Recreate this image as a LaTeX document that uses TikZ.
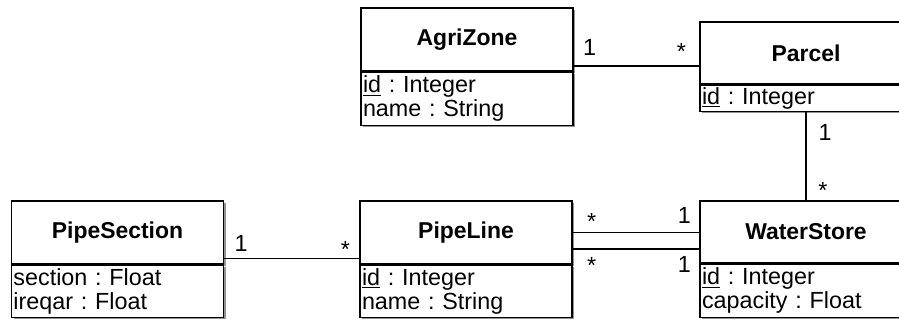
\documentclass[tikz,border=0pt]{standalone}
\usepackage{fontspec}
\setmainfont{Liberation Sans}
\usepackage{tikz}
\usetikzlibrary{positioning,shadows}
\frenchspacing

\begin{document}
\begin{tikzpicture}[
    x=0.75pt, y=-0.75pt, % one unit = one pixel of the layout, y going down
    every node/.style={font=\fontsize{17.5}{18}\selectfont},
    classnode/.style={draw, line width=1pt, fill=white, minimum width=159pt, inner sep=1.5pt, font=\fontsize{17.2}{18}\selectfont\bfseries, drop shadow={shadow xshift=1.5pt, shadow yshift=-1.5pt, fill=black!60, opacity=0.7}}, % class name compartment
    attrnode/.style={draw, line width=1pt, fill=white, text width=156pt, inner xsep=1.5pt, inner ysep=0pt, align=left, drop shadow={shadow xshift=1.5pt, shadow yshift=-1.5pt, fill=black!60, opacity=0.7}}, % attribute compartment
    multnode/.style={inner sep=0pt}, % multiplicity labels
    assoc/.style={line width=1pt},
    node distance=0pt
]
\useasboundingbox (0,0) rectangle (899,320);

% classes
\node[classnode, minimum height=47.25pt] (agrizone) at (467,39.5) {AgriZone};
\node[attrnode, minimum height=39.75pt, below=of agrizone] (agrizoneattr) {\underline{id} : Integer\\name : String};

\node[classnode, minimum height=46.5pt] (parcel) at (806,53) {Parcel};
\node[attrnode, minimum height=19.5pt, below=of parcel] (parcelattr) {\underline{id} : Integer};

\node[classnode, minimum height=47.25pt] (pipesection) at (117.5,232.5) {PipeSection};
\node[attrnode, minimum height=39pt, below=of pipesection] (pipesectionattr) {section : Float\\ireqar : Float};

\node[classnode, minimum height=47.25pt] (pipeline) at (466,232.5) {PipeLine};
\node[attrnode, minimum height=39pt, below=of pipeline] (pipelineattr) {\underline{id} : Integer\\name : String};

\node[classnode, minimum height=46.5pt] (waterstore) at (806,232) {WaterStore};
\node[attrnode, minimum height=39.75pt, below=of waterstore] (waterstoreattr) {\underline{id} : Integer\\capacity : Float};

% associations
\draw[assoc] ([yshift=-19.875pt]agrizone.east) -- ([yshift=-19.875pt]agrizone.east -| parcel.west)
    node[multnode, pos=0, xshift=12pt, yshift=14.25pt] {1}
    node[multnode, pos=1, xshift=-13.5pt, yshift=10.75pt] {*};
\draw[assoc] (parcelattr.south) -- (waterstore.north)
    node[multnode, pos=0, xshift=14.25pt, yshift=-15pt] {1}
    node[multnode, pos=1, xshift=12.75pt, yshift=7.75pt] {*};
\draw[assoc] ([yshift=4.5pt]pipesection.south east) -- ([yshift=4.5pt]pipesection.south east -| pipeline.west)
    node[multnode, pos=0, xshift=12.75pt, yshift=11.25pt] {1}
    node[multnode, pos=1, xshift=-10.5pt, yshift=7pt] {*};
\draw[assoc] (pipeline.east) -- (pipeline.east -| waterstore.west)
    node[multnode, pos=0, xshift=14.25pt, yshift=8.1pt] {*}
    node[multnode, pos=1, xshift=-11.25pt, yshift=12.75pt] {1};
\draw[assoc] ([yshift=-12.4pt]pipeline.east) -- ([yshift=-12.4pt]pipeline.east -| waterstore.west)
    node[multnode, pos=0, xshift=14.25pt, yshift=-12.5pt] {*}
    node[multnode, pos=1, xshift=-11.25pt, yshift=-11.25pt] {1};
\end{tikzpicture}
\end{document}
